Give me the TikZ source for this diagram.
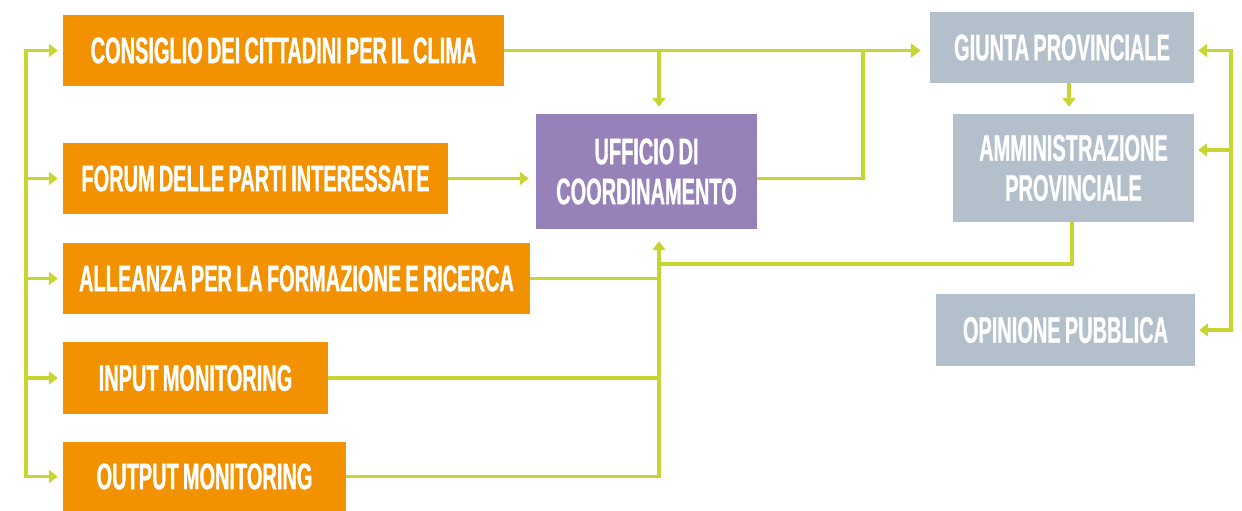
\documentclass[tikz,border=0pt]{standalone}
\usepackage{fontspec}
\newfontfamily\cf[FakeStretch=0.54,FakeBold=0.8,WordSpace=0.75,UprightFont={* Bold}]{Liberation Sans}
\usetikzlibrary{arrows.meta,calc}
\definecolor{orng}{HTML}{F39200}
\definecolor{purp}{HTML}{9681B9}
\definecolor{gry}{HTML}{B3BFCA}
\definecolor{grn}{HTML}{C8D42F}
\begin{document}
\begin{tikzpicture}[x=1pt,y=-1pt,
  box/.style={rectangle,inner sep=0pt,text=white,align=center,font=\cf\fontsize{37}{40}\selectfont},
  obox/.style={box,fill=orng,minimum height=71pt},
  pbox/.style={box,fill=purp},
  gbox/.style={box,fill=gry},
  conn/.style={draw=grn,line width=3.5pt},
  arr/.style={conn,-{Triangle[length=9pt,width=13pt]},shorten >=6pt},
]
\useasboundingbox (0,0) rectangle (1242,511);
% boxes
\node[obox,minimum width=441pt] (cons) at (283.5,50.5) {CONSIGLIO DEI CITTADINI PER IL CLIMA};
\node[obox,minimum width=385pt] (forum) at (255.5,178.5) {FORUM DELLE PARTI INTERESSATE};
\node[obox,minimum width=467pt] (alle) at (296.5,278.5) {ALLEANZA PER LA FORMAZIONE E RICERCA};
\node[obox,minimum width=265pt,minimum height=72pt] (input) at (195.5,378) {INPUT MONITORING};
\node[obox,minimum width=283pt,minimum height=69pt] (output) at (204.5,476.5) {OUTPUT MONITORING};
\node[pbox,minimum width=221pt,minimum height=115pt] (uff) at (646.5,171.5) {UFFICIO DI\\COORDINAMENTO};
\node[gbox,minimum width=264pt,minimum height=71pt] (giunta) at (1062,47.5) {GIUNTA PROVINCIALE};
\node[gbox,minimum width=241pt,minimum height=108pt] (amm) at (1073.5,168) {AMMINISTRAZIONE\\PROVINCIALE};
\node[gbox,minimum width=259pt,minimum height=72pt] (opin) at (1065.5,330) {OPINIONE PUBBLICA};
% helper coordinates
\coordinate (Lx) at (26,0);
\coordinate (Ux) at (659,0);
\coordinate (Vx) at (863,0);
\coordinate (Gx) at (1069,0);
\coordinate (RA) at (1231,150);
\coordinate (M) at (659,264);
% left distribution
\draw[conn] (forum.west -| Lx) -- (input.west -| Lx);
\draw[arr,shorten >=5pt] (forum.west -| Lx) |- (cons.west);
\draw[arr,shorten >=5pt] (forum.west -| Lx) -- (forum.west);
\draw[arr,shorten >=5pt] (alle.west -| Lx) -- (alle.west);
\draw[arr,shorten >=5pt] (input.west -| Lx) -- (input.west);
\draw[arr,shorten >=5pt] (input.west -| Lx) |- (output.west);
% top line
\draw[arr,-{Triangle[length=10pt,width=14pt]},shorten >=9pt] (cons.east) -- (cons.east -| giunta.west);
\draw[arr,shorten >=7pt] (cons.east -| Ux) -- (uff.north -| Ux);
\draw[conn] (forum.east -| uff.east) -| (cons.east -| Vx);
\draw[arr,shorten >=7pt] (forum.east) -- (forum.east -| uff.west);
% bottom collector
\draw[conn] (alle.east) -- (alle.east -| Ux);
\draw[conn] (input.east) -- (input.east -| Ux);
\draw[arr,shorten >=12pt] (output.east) -| (uff.south -| Ux);
\draw[conn] (amm.south -| Gx) ++(3,0) |- (M);
% right side
\draw[arr,shorten >=7pt] (giunta.south -| Gx) -- (amm.north -| Gx);
\draw[arr,shorten >=4pt] (RA) |- (giunta.east |- cons.east);
\draw[arr,shorten >=4pt] (RA) -- (RA -| amm.east);
\draw[arr,shorten >=4pt] (RA) |- (opin.east);
\end{tikzpicture}
\end{document}
